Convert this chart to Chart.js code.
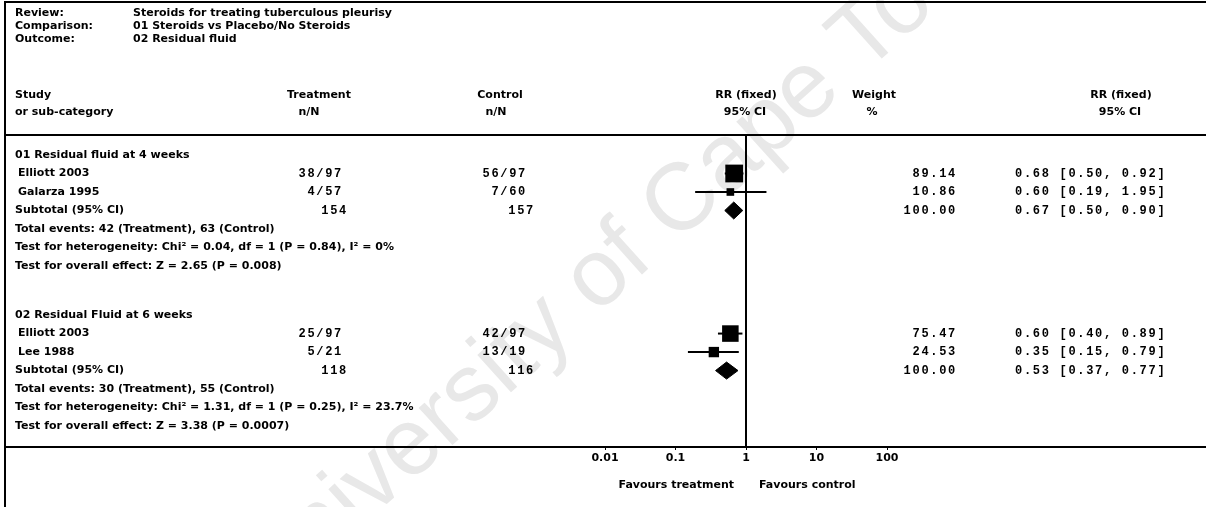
<!DOCTYPE html>
<html>
<head>
<meta charset="utf-8">
<title>Steroids for treating tuberculous pleurisy - Residual fluid</title>
<script src="https://cdn.jsdelivr.net/npm/chart.js@4.4.1/dist/chart.umd.min.js"></script>
<style>
  html, body { margin: 0; padding: 0; background: #fff; }
  #wrap { position: relative; width: 1206px; height: 507px; }
</style>
</head>
<body>
<div id="wrap"><canvas id="forestChart"></canvas></div>
<script>
// Review details
const reviewLabels = ['Review:', 'Comparison:', 'Outcome:'];
const reviewValues = ['Steroids for treating tuberculous pleurisy', '01 Steroids vs Placebo/No Steroids', '02 Residual fluid'];

// Column headings (two lines)
const headTop = ['Study', 'Treatment', 'Control', 'RR (fixed)', 'Weight', 'RR (fixed)'];
const headBottom = ['or sub-category', 'n/N', 'n/N', '95% CI', '%', '95% CI'];

// Subgroups
const groupTitles = ['01 Residual fluid at 4 weeks', '02 Residual Fluid at 6 weeks'];
const groupTreatTotal = ['154', '118'];
const groupControlTotal = ['157', '116'];
const groupWeight = ['100.00', '100.00'];
const groupRR = [0.67, 0.53];
const groupLow = [0.50, 0.37];
const groupHigh = [0.90, 0.77];
const groupRRText = ['0.67 [0.50, 0.90]', '0.53 [0.37, 0.77]'];
const groupEvents = ['Total events: 42 (Treatment), 63 (Control)', 'Total events: 30 (Treatment), 55 (Control)'];
const groupHetero = ['Test for heterogeneity: Chi\u00b2 = 0.04, df = 1 (P = 0.84), I\u00b2 = 0%',
                     'Test for heterogeneity: Chi\u00b2 = 1.31, df = 1 (P = 0.25), I\u00b2 = 23.7%'];
const groupEffect = ['Test for overall effect: Z = 2.65 (P = 0.008)', 'Test for overall effect: Z = 3.38 (P = 0.0007)'];

// Studies
const studies = ['Elliott 2003', 'Galarza 1995', 'Elliott 2003', 'Lee 1988'];
const studyGroup = [0, 0, 1, 1];
const treatNN = ['38/97', '4/57', '25/97', '5/21'];
const controlNN = ['56/97', '7/60', '42/97', '13/19'];
const weights = [89.14, 10.86, 75.47, 24.53];
const weightText = ['89.14', '10.86', '75.47', '24.53'];
const rr = [0.68, 0.60, 0.60, 0.35];
const rrLow = [0.50, 0.19, 0.40, 0.15];
const rrHigh = [0.92, 1.95, 0.89, 0.79];
const rrText = ['0.68 [0.50, 0.92]', '0.60 [0.19, 1.95]', '0.60 [0.40, 0.89]', '0.35 [0.15, 0.79]'];

// Axis
const xTicks = [0.01, 0.1, 1, 10, 100];
const xTickLabels = ['0.01', '0.1', '1', '10', '100'];
const favourLeft = 'Favours treatment';
const favourRight = 'Favours control';

// ---- layout ----
const GROUP_ROWS = 7;
const GROUP_GAP = 1.65;
const Y_MIN = -1.08;
const Y_MAX = 15.78;
const rowOf = (g, k) => g * (GROUP_ROWS + GROUP_GAP) + k;

const studyRows = studies.map((s, i) => {
  const k = studyGroup.slice(0, i).filter(g => g === studyGroup[i]).length;
  return rowOf(studyGroup[i], 1 + k);
});
const groupRows = groupTitles.map((t, g) => rowOf(g, 0));
const subtotalRows = groupTitles.map((t, g) => rowOf(g, 1 + studyGroup.filter(x => x === g).length));

const LABEL_FONT = 'bold 11px "DejaVu Sans"';
const NUM_FONT = 'bold 12px "Liberation Mono"';

// ---- datasets ----
const datasets = [];

// line of no effect
datasets.push({
  data: [{ x: 1, y: Y_MIN }, { x: 1, y: Y_MAX }],
  showLine: true, borderColor: '#000', borderWidth: 2, pointRadius: 0
});

// confidence intervals
studies.forEach((s, i) => {
  datasets.push({
    data: [{ x: rrLow[i], y: studyRows[i] }, { x: rrHigh[i], y: studyRows[i] }],
    showLine: true, borderColor: '#000', borderWidth: 2, pointRadius: 0
  });
});

// study boxes, area follows weight
datasets.push({
  data: studies.map((s, i) => ({ x: rr[i], y: studyRows[i] })),
  pointStyle: 'rect',
  pointRadius: weights.map(w => (2.2 + 1.65 * Math.sqrt(w)) / Math.SQRT2),
  backgroundColor: '#000', borderColor: '#000', borderWidth: 0
});

// subtotal diamonds
groupTitles.forEach((t, g) => {
  const r = subtotalRows[g];
  datasets.push({
    data: [
      { x: groupLow[g], y: r }, { x: groupRR[g], y: r - 0.46 },
      { x: groupHigh[g], y: r }, { x: groupRR[g], y: r + 0.46 }, { x: groupLow[g], y: r }
    ],
    showLine: true, fill: 'shape', tension: 0,
    backgroundColor: '#000', borderColor: '#000', borderWidth: 1, pointRadius: 0
  });
});

function put(ctx, text, x, y, align, font, spacing) {
  ctx.font = font;
  ctx.textAlign = align;
  ctx.letterSpacing = spacing || '0px';
  ctx.fillText(text, x, y);
  ctx.letterSpacing = '0px';
}

const forestText = {
  id: 'forestText',
  beforeDraw(chart) {
    const ctx = chart.ctx;
    ctx.save();
    ctx.fillStyle = '#fff';
    ctx.fillRect(0, 0, chart.width, chart.height);
    // scanned watermark
    ctx.translate(267, 612);
    ctx.rotate(-42 * Math.PI / 180);
    ctx.font = '95px "Liberation Sans"';
    ctx.fillStyle = '#e8e8e8';
    ctx.textAlign = 'left';
    ctx.textBaseline = 'alphabetic';
    ctx.fillText('University of Cape Town', 0, 0);
    ctx.restore();
  },
  afterDraw(chart) {
    const ctx = chart.ctx;
    const y = chart.scales.y;
    const area = chart.chartArea;
    ctx.save();
    ctx.fillStyle = '#000';
    ctx.strokeStyle = '#000';
    ctx.textBaseline = 'middle';

    // frame and rules
    ctx.lineWidth = 2;
    ctx.beginPath();
    ctx.moveTo(5, chart.height); ctx.lineTo(5, 2); ctx.lineTo(chart.width, 2);
    ctx.moveTo(5, area.top); ctx.lineTo(chart.width, area.top);
    ctx.moveTo(5, area.bottom); ctx.lineTo(chart.width, area.bottom);
    ctx.stroke();

    // review block
    reviewLabels.forEach((l, i) => {
      put(ctx, l, 15, 13 + i * 13, 'left', LABEL_FONT);
      put(ctx, reviewValues[i], 133, 13 + i * 13, 'left', LABEL_FONT);
    });

    // column headings
    const headX = [15, 319, 500, 746, 874, 1121];
    const headX2 = [15, 309, 496, 745, 872, 1120];
    headTop.forEach((h, i) => put(ctx, h, headX[i], 95, i === 0 ? 'left' : 'center', LABEL_FONT));
    headBottom.forEach((h, i) => put(ctx, h, headX2[i], 112, i === 0 ? 'left' : 'center', LABEL_FONT));

    // groups
    groupTitles.forEach((t, g) => {
      put(ctx, t, 15, y.getPixelForValue(groupRows[g]), 'left', LABEL_FONT);
      const sy = y.getPixelForValue(subtotalRows[g]);
      put(ctx, 'Subtotal (95% CI)', 15, sy, 'left', LABEL_FONT);
      put(ctx, groupTreatTotal[g], 348, sy, 'right', NUM_FONT, '1.7px');
      put(ctx, groupControlTotal[g], 535, sy, 'right', NUM_FONT, '1.7px');
      put(ctx, groupWeight[g], 957, sy, 'right', NUM_FONT, '1.7px');
      put(ctx, groupRRText[g], 1015, sy, 'left', NUM_FONT, '1.7px');
      put(ctx, groupEvents[g], 15, y.getPixelForValue(subtotalRows[g] + 1), 'left', LABEL_FONT);
      put(ctx, groupHetero[g], 15, y.getPixelForValue(subtotalRows[g] + 2), 'left', LABEL_FONT);
      put(ctx, groupEffect[g], 15, y.getPixelForValue(subtotalRows[g] + 3), 'left', LABEL_FONT);
    });

    // studies
    studies.forEach((s, i) => {
      const sy = y.getPixelForValue(studyRows[i]);
      put(ctx, s, 18, sy, 'left', LABEL_FONT);
      put(ctx, treatNN[i], 343, sy, 'right', NUM_FONT, '1.7px');
      put(ctx, controlNN[i], 527, sy, 'right', NUM_FONT, '1.7px');
      put(ctx, weightText[i], 957, sy, 'right', NUM_FONT, '1.7px');
      put(ctx, rrText[i], 1015, sy, 'left', NUM_FONT, '1.7px');
    });

    // favours labels either side of the null line
    const one = chart.scales.x.getPixelForValue(1);
    put(ctx, favourLeft, one - 12, 485, 'right', LABEL_FONT);
    put(ctx, favourRight, one + 13, 485, 'left', LABEL_FONT);
    ctx.restore();
  }
};

new Chart(document.getElementById('forestChart'), {
  type: 'scatter',
  data: { datasets: datasets },
  options: {
    responsive: true,
    maintainAspectRatio: false,
    animation: false,
    events: [],
    layout: { padding: { left: 605, right: 319, top: 135, bottom: 40 } },
    plugins: {
      legend: { display: false },
      tooltip: { enabled: false }
    },
    scales: {
      x: {
        type: 'logarithmic',
        min: 0.01,
        max: 100,
        border: { display: false },
        grid: { display: true, drawOnChartArea: false, drawTicks: true, tickLength: 3, color: '#000' },
        afterBuildTicks: (scale) => { scale.ticks = xTicks.map(v => ({ value: v })); },
        afterFit: (scale) => { scale.height = 20; },
        ticks: {
          color: '#000',
          padding: 2,
          maxRotation: 0,
          font: { family: 'DejaVu Sans', size: 11, weight: 'bold' },
          callback: (value, index) => xTickLabels[index]
        }
      },
      y: {
        type: 'linear',
        min: Y_MIN,
        max: Y_MAX,
        reverse: true,
        display: false
      }
    }
  },
  plugins: [forestText]
});
</script>
</body>
</html>
